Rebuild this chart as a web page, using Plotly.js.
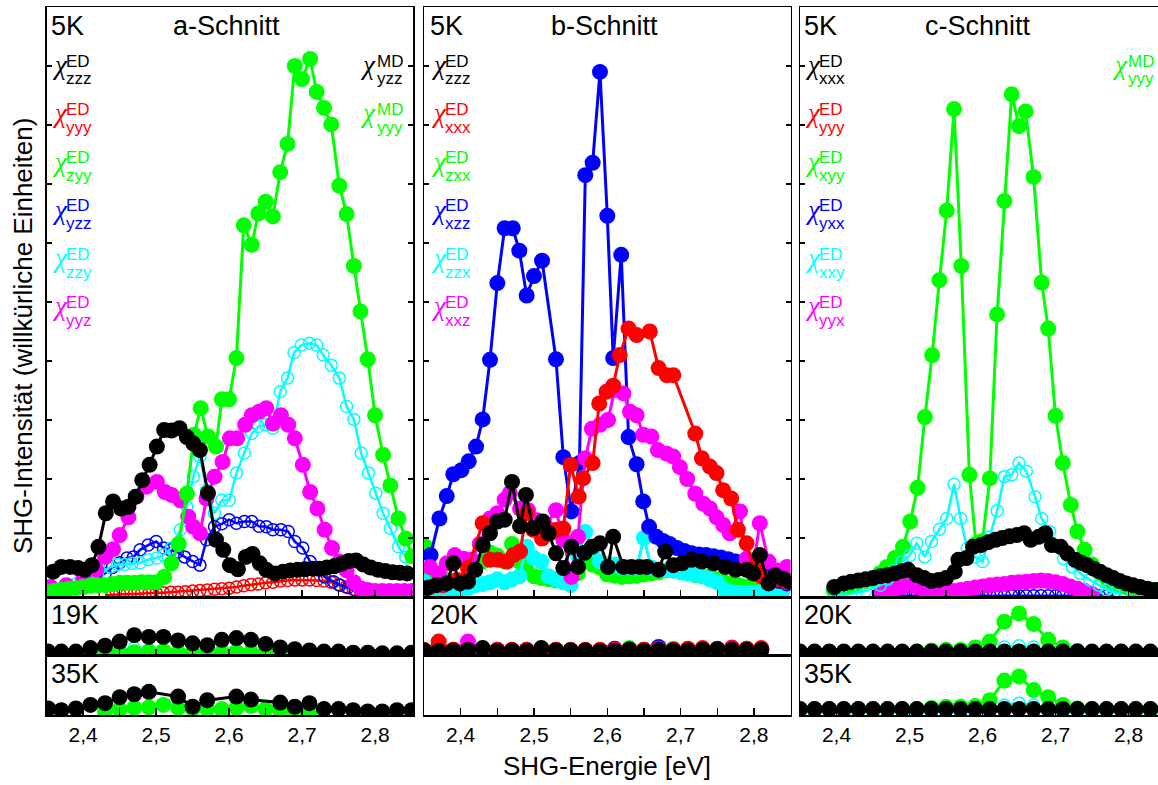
<!DOCTYPE html>
<html><head><meta charset="utf-8">
<script src="https://cdn.plot.ly/plotly-3.0.1.min.js"></script>
<style>html,body{margin:0;padding:0;background:#fff}#chart{width:1158px;height:785px}</style>
</head><body><div id="chart"></div>
<script>
// ===================== DATA =====================
// x tick labels
const tickPos = [2.4, 2.5, 2.6, 2.7, 2.8];
const tickLabels = ['2,4', '2,5', '2,6', '2,7', '2,8'];
const minorPos = [2.35, 2.45, 2.55, 2.65, 2.75, 2.85];

// ---- a-Schnitt, 5K ----
const a5_E_zzz = [2.359,2.37,2.382,2.393,2.402,2.412,2.421,2.431,2.441,2.452,2.462,2.472,2.481,2.491,2.501,2.511,2.521,2.532,2.542,2.551,2.56,2.571,2.582,2.592,2.601,2.612,2.623,2.632,2.642,2.651,2.663,2.674,2.684,2.694,2.704,2.714,2.724,2.734,2.744,2.754,2.764,2.774,2.784,2.794,2.804,2.814,2.824,2.834,2.844];
const a5_I_zzz = [0.43,0.51,0.51,0.49,0.46,0.54,0.85,1.42,1.62,1.5,1.53,1.7,1.98,2.24,2.55,2.83,2.82,2.86,2.71,2.6,2.49,1.76,0.97,0.8,0.54,0.47,0.68,0.73,0.57,0.46,0.4,0.43,0.45,0.46,0.47,0.48,0.48,0.5,0.52,0.56,0.61,0.62,0.55,0.5,0.46,0.44,0.42,0.41,0.4];
const a5_E_yyy = [2.43,2.44,2.45,2.46,2.47,2.48,2.49,2.50,2.51,2.52,2.53,2.54,2.55,2.56,2.57,2.58,2.59,2.60,2.61,2.62,2.63,2.64,2.65,2.66,2.67,2.68,2.69,2.70,2.71,2.72,2.73,2.74,2.75,2.76,2.77,2.78];
const a5_I_yyy = [0.03,0.04,0.05,0.05,0.05,0.06,0.06,0.07,0.07,0.08,0.08,0.09,0.1,0.11,0.12,0.13,0.14,0.15,0.17,0.19,0.21,0.22,0.24,0.25,0.27,0.28,0.29,0.29,0.29,0.28,0.27,0.25,0.21,0.17,0.13,0.09];
const a5_E_zyy = [2.35,2.36,2.37,2.38,2.39,2.40,2.41,2.42,2.43,2.44,2.45,2.46,2.47,2.48,2.49,2.50,2.511,2.521,2.531,2.542,2.552,2.561,2.571,2.582,2.59,2.60,2.61,2.62,2.631,2.64,2.65,2.66,2.67,2.68,2.69,2.70,2.711,2.72,2.73,2.74,2.751,2.761,2.771,2.78,2.79,2.80,2.811,2.821,2.832,2.842,2.851];
const a5_I_zyy = [0.08,0.1,0.12,0.14,0.15,0.17,0.19,0.2,0.2,0.22,0.24,0.24,0.24,0.25,0.25,0.25,0.34,0.57,0.9,1.75,2.75,3.2,2.72,2.55,3.35,3.35,4.05,6.3,5.97,6.5,6.7,6.45,7.2,7.68,9.0,8.78,9.12,8.56,8.29,8.01,6.97,6.49,5.61,4.84,4.03,3.08,2.41,1.89,1.33,0.99,0.69];
const a5_E_yzz = [2.35,2.37,2.39,2.41,2.43,2.44,2.45,2.46,2.469,2.478,2.489,2.50,2.51,2.519,2.529,2.539,2.55,2.56,2.569,2.58,2.59,2.60,2.61,2.621,2.631,2.641,2.651,2.66,2.671,2.681,2.69,2.701,2.711,2.722,2.731,2.743,2.752,2.763,2.773,2.783,2.793,2.803,2.813,2.823,2.833,2.843];
const a5_I_yzz = [0.05,0.1,0.15,0.25,0.4,0.5,0.58,0.66,0.68,0.8,0.88,0.94,0.83,0.8,0.76,0.68,0.6,0.54,0.97,1.19,1.24,1.31,1.25,1.28,1.28,1.2,1.19,1.14,1.14,1.11,0.94,0.83,0.6,0.46,0.34,0.26,0.2,0.16,0.12,0.1,0.09,0.08,0.08,0.07,0.07,0.07];
const a5_E_zzy = [2.35,2.36,2.37,2.38,2.39,2.40,2.41,2.42,2.437,2.447,2.457,2.467,2.478,2.489,2.501,2.51,2.521,2.533,2.542,2.551,2.56,2.569,2.58,2.59,2.60,2.61,2.621,2.631,2.64,2.65,2.66,2.67,2.68,2.689,2.699,2.71,2.72,2.729,2.74,2.751,2.761,2.771,2.781,2.791,2.801,2.811,2.821,2.832,2.842,2.851];
const a5_I_zzy = [0.1,0.12,0.15,0.18,0.22,0.26,0.3,0.35,0.51,0.55,0.55,0.57,0.58,0.63,0.66,0.71,0.83,1.14,1.53,2.04,2.38,1.81,1.42,1.64,1.64,2.1,2.44,2.77,2.89,2.92,2.86,3.48,3.71,4.14,4.27,4.3,4.27,4.1,3.93,3.71,3.23,3.01,2.44,2.1,1.76,1.42,1.16,0.85,0.68,0.57];
const a5_E_yyz = [2.355,2.377,2.40,2.418,2.43,2.441,2.45,2.462,2.473,2.487,2.501,2.512,2.521,2.533,2.544,2.551,2.56,2.569,2.58,2.591,2.601,2.611,2.622,2.631,2.641,2.651,2.66,2.671,2.681,2.69,2.701,2.711,2.721,2.731,2.741,2.751,2.761,2.771,2.78,2.79,2.80,2.81,2.82,2.83,2.84,2.85];
const a5_I_yyz = [0.17,0.2,0.29,0.46,0.68,0.81,1.05,1.35,1.7,1.87,1.95,1.78,1.73,1.64,1.36,1.19,1.08,1.67,2.04,2.29,2.69,2.69,2.92,3.08,3.14,3.2,2.94,3.08,2.92,2.69,2.24,1.78,1.5,1.14,0.83,0.6,0.45,0.25,0.15,0.12,0.1,0.1,0.1,0.1,0.1,0.1];

// ---- a-Schnitt, 19K / 35K ----
const a19_E = [2.352,2.37,2.39,2.41,2.43,2.45,2.47,2.49,2.51,2.53,2.55,2.57,2.59,2.61,2.63,2.65,2.67,2.69,2.71,2.73,2.75,2.77,2.79,2.81,2.83,2.85];
const a19_zzz = [0.07,0.07,0.07,0.13,0.17,0.24,0.35,0.32,0.32,0.26,0.21,0.18,0.27,0.3,0.27,0.2,0.14,0.11,0.09,0.07,0.07,0.05,0.05,0.04,0.04,0.05];
const a19_zyy = [0.0,0.0,0.0,0.02,0.04,0.06,0.06,0.07,0.08,0.06,0.05,0.05,0.06,0.07,0.06,0.05,0.04,0.04,0.03,0.03,0.02,0.02,0.02,0.01,0.01,0.01];
const a19_zzy = [0.02,0.02,0.03,0.05,0.08,0.1,0.13,0.1,0.08,0.07,0.06,0.05,0.06,0.07,0.06,0.05,0.04,0.03,0.03,0.02,0.02,0.02,0.02,0.02,0.02,0.02];
const a35_E = [2.352,2.37,2.39,2.41,2.43,2.45,2.47,2.49,2.53,2.55,2.57,2.61,2.63,2.67,2.69,2.71,2.73,2.75,2.77,2.79,2.81,2.83,2.85];
const a35_zzz = [0.11,0.08,0.11,0.17,0.2,0.3,0.35,0.39,0.31,0.14,0.25,0.31,0.26,0.21,0.14,0.2,0.1,0.1,0.08,0.06,0.06,0.08,0.08];
const a35g_E = [2.43,2.45,2.47,2.49,2.51,2.53,2.55,2.57,2.59,2.61,2.63,2.65,2.67,2.69,2.71];
const a35_zyy = [0.06,0.1,0.12,0.13,0.17,0.12,0.1,0.1,0.1,0.12,0.15,0.1,0.08,0.06,0.04];

// ---- b-Schnitt, 5K ----
const b5_E_zzz = [2.354,2.367,2.381,2.39,2.399,2.41,2.42,2.43,2.44,2.45,2.46,2.47,2.481,2.489,2.499,2.512,2.52,2.53,2.54,2.551,2.56,2.569,2.579,2.59,2.601,2.608,2.622,2.633,2.644,2.654,2.67,2.679,2.69,2.702,2.715,2.729,2.745,2.761,2.775,2.79,2.799,2.808,2.82,2.829,2.84,2.849];
const b5_I_zzz = [0.15,0.2,0.23,0.57,0.23,0.26,0.46,0.88,1.08,1.28,1.31,1.95,1.2,1.73,1.17,1.28,1.08,0.74,0.49,0.85,0.51,0.75,0.85,0.91,0.51,1.02,0.51,0.51,0.51,0.51,0.46,0.77,0.54,0.57,0.63,0.6,0.57,0.51,0.46,0.46,0.4,0.71,0.23,0.37,0.31,0.26];
const b5_E_xxx = [2.358,2.376,2.395,2.41,2.43,2.44,2.451,2.463,2.472,2.481,2.49,2.499,2.511,2.522,2.531,2.54,2.55,2.561,2.567,2.58,2.589,2.599,2.608,2.617,2.629,2.64,2.658,2.67,2.681,2.69,2.72,2.729,2.74,2.749,2.758,2.769,2.778,2.79,2.80,2.81,2.82,2.83,2.845];
const b5_I_xxx = [0.17,0.2,0.29,0.49,1.25,0.63,0.63,0.6,0.71,0.77,1.42,1.14,0.99,1.08,1.14,1.16,2.24,1.7,2.01,2.27,3.28,3.48,3.58,4.1,4.55,4.44,4.5,3.88,3.76,3.76,2.77,2.35,2.21,2.1,1.81,1.67,1.14,0.91,0.5,0.35,0.3,0.3,0.25];
const b5_E_zxx = [2.352,2.36,2.37,2.38,2.39,2.40,2.41,2.42,2.43,2.44,2.45,2.46,2.47,2.48,2.49,2.50,2.51,2.52,2.53,2.54,2.55,2.56,2.57,2.58,2.59,2.60,2.61,2.62,2.63,2.64,2.65,2.66,2.67,2.68,2.69,2.70,2.71,2.72,2.73,2.74,2.75,2.76,2.77,2.78,2.79,2.80,2.81,2.82,2.83,2.84];
const b5_I_zxx = [0.85,0.4,0.35,0.3,0.25,0.28,0.35,0.5,0.6,0.75,0.7,0.6,0.9,0.6,0.45,0.35,0.32,0.3,0.28,0.3,0.35,0.4,0.6,0.55,0.5,0.38,0.36,0.34,0.35,0.36,0.38,0.4,0.42,0.45,0.45,0.43,0.4,0.37,0.35,0.35,0.3,0.25,0.22,0.2,0.18,0.2,0.22,0.2,0.2,0.22];
const b5_E_xzz = [2.359,2.371,2.381,2.39,2.401,2.411,2.421,2.43,2.44,2.45,2.46,2.471,2.48,2.49,2.50,2.511,2.53,2.54,2.551,2.562,2.57,2.58,2.59,2.60,2.608,2.619,2.629,2.64,2.649,2.657,2.667,2.676,2.685,2.695,2.705,2.715,2.725,2.735,2.745,2.755,2.765,2.775,2.785,2.795,2.805,2.815,2.825,2.835,2.845];
const b5_I_xzz = [0.71,1.33,1.71,2.08,2.15,2.3,2.55,3.01,4.02,5.32,6.25,6.25,5.87,5.11,5.44,5.7,4.03,2.37,1.45,2.27,7.15,7.36,8.9,6.46,4.05,5.8,2.71,2.25,1.62,1.19,1.02,0.95,0.9,0.83,0.78,0.74,0.72,0.71,0.69,0.67,0.64,0.6,0.55,0.5,0.44,0.38,0.32,0.27,0.23];
const b5_E_zzx = [2.35,2.36,2.37,2.38,2.39,2.40,2.41,2.42,2.43,2.44,2.45,2.46,2.47,2.48,2.49,2.50,2.51,2.52,2.53,2.54,2.55,2.56,2.57,2.58,2.59,2.60,2.61,2.62,2.63,2.64,2.65,2.66,2.67,2.68,2.69,2.70,2.71,2.72,2.73,2.74,2.75,2.76,2.77,2.78,2.79,2.80,2.81,2.82,2.83,2.84];
const b5_I_zzx = [0.25,0.15,0.12,0.1,0.08,0.1,0.15,0.2,0.22,0.25,0.3,0.25,0.3,0.35,0.85,0.66,0.6,0.35,0.3,0.25,0.2,0.7,1.1,0.8,0.6,0.55,0.55,0.5,0.5,0.5,1.0,0.5,0.45,0.45,0.45,0.42,0.4,0.38,0.35,0.3,0.25,0.12,0.08,0.07,0.07,0.07,0.08,0.1,0.12,0.12];
const b5_E_xxz = [2.358,2.37,2.381,2.392,2.404,2.415,2.426,2.44,2.45,2.46,2.467,2.481,2.492,2.504,2.516,2.53,2.54,2.551,2.56,2.57,2.579,2.59,2.601,2.61,2.622,2.631,2.64,2.649,2.66,2.669,2.681,2.69,2.699,2.709,2.72,2.731,2.74,2.749,2.758,2.767,2.781,2.79,2.799,2.808,2.82,2.832,2.845];
const b5_I_xxz = [0.51,0.4,0.57,0.71,0.65,0.63,0.9,1.33,1.42,1.65,1.76,1.5,1.47,1.3,1.2,1.47,0.97,0.34,1.02,2.35,2.85,2.92,3.0,3.51,3.45,3.14,3.08,2.75,2.72,2.49,2.43,2.38,2.2,2.0,1.75,1.58,1.5,1.35,1.22,1.08,1.45,0.65,0.5,1.25,0.6,0.45,0.51];

// ---- b-Schnitt, 20K ----
const b20_E = [2.35,2.37,2.39,2.41,2.43,2.45,2.47,2.49,2.51,2.53,2.55,2.57,2.59,2.61,2.63,2.65,2.67,2.69,2.71,2.73,2.75,2.77,2.79,2.81];
const b20_zzz = [0.09,0.08,0.09,0.1,0.13,0.08,0.09,0.08,0.13,0.09,0.09,0.09,0.08,0.08,0.1,0.08,0.1,0.09,0.09,0.1,0.11,0.1,0.1,0.1];
const b20_xxx = [0.1,0.24,0.1,0.1,0.12,0.1,0.1,0.1,0.12,0.1,0.1,0.1,0.1,0.1,0.11,0.1,0.12,0.1,0.12,0.13,0.12,0.13,0.12,0.13];
const b20_xxz = [0.08,0.08,0.1,0.24,0.1,0.08,0.09,0.08,0.1,0.09,0.09,0.09,0.08,0.1,0.1,0.08,0.12,0.09,0.1,0.1,0.11,0.14,0.12,0.1];
const b20_xzz = [0.08,0.07,0.08,0.08,0.1,0.1,0.08,0.1,0.1,0.1,0.08,0.08,0.08,0.12,0.1,0.1,0.15,0.1,0.1,0.1,0.1,0.1,0.1,0.1];
const b20_zxx = [0.08,0.08,0.08,0.08,0.1,0.08,0.08,0.08,0.1,0.08,0.08,0.08,0.08,0.1,0.13,0.1,0.1,0.12,0.1,0.1,0.1,0.1,0.1,0.1];

// ---- c-Schnitt, 5K ----
const c5_E_xxx = [2.397,2.41,2.42,2.43,2.44,2.45,2.46,2.47,2.48,2.49,2.498,2.51,2.52,2.53,2.54,2.55,2.562,2.567,2.578,2.587,2.598,2.608,2.618,2.627,2.637,2.647,2.657,2.666,2.677,2.686,2.695,2.707,2.716,2.727,2.735,2.743,2.752,2.761,2.77,2.779,2.788,2.797,2.806,2.816,2.826,2.837];
const c5_I_xxx = [0.17,0.23,0.26,0.28,0.3,0.32,0.35,0.37,0.4,0.44,0.46,0.37,0.32,0.27,0.29,0.32,0.43,0.63,0.66,0.85,0.88,0.93,0.97,1.0,1.03,1.05,1.08,0.97,1.02,1.08,0.88,0.85,0.74,0.63,0.58,0.54,0.48,0.43,0.37,0.32,0.27,0.23,0.2,0.17,0.14,0.12];
const c5_E_xyy = [2.396,2.409,2.418,2.428,2.439,2.449,2.459,2.469,2.48,2.491,2.501,2.511,2.521,2.531,2.541,2.551,2.561,2.571,2.582,2.591,2.60,2.61,2.62,2.63,2.64,2.65,2.659,2.67,2.681,2.69,2.70,2.71,2.721,2.73,2.74,2.75,2.761,2.771,2.779,2.79,2.80,2.81,2.82,2.829,2.839];
const c5_I_xyy = [0.12,0.15,0.18,0.22,0.27,0.3,0.4,0.51,0.66,0.85,1.28,1.85,3.05,4.1,5.37,6.55,8.27,5.61,2.07,0.9,0.95,2.01,4.79,6.71,8.52,7.98,8.23,7.12,5.33,4.55,3.07,2.27,1.56,1.11,0.8,0.55,0.4,0.3,0.23,0.18,0.15,0.13,0.12,0.12,0.12];
const c5_E_yxx = [2.46,2.47,2.48,2.49,2.50,2.51,2.52,2.53,2.54,2.55,2.56,2.57,2.58,2.59,2.60,2.61,2.62,2.63,2.64,2.65,2.66,2.67,2.68,2.69,2.70,2.71,2.72,2.73,2.74,2.75,2.76,2.77,2.78];
const c5_I_yxx = [0.02,0.02,0.02,0.02,0.02,0.02,0.02,0.02,0.02,0.02,0.02,0.02,0.02,0.02,0.02,0.02,0.02,0.02,0.02,0.02,0.02,0.02,0.02,0.02,0.02,0.02,0.02,0.02,0.02,0.02,0.02,0.02,0.02];
const c5_E_xxy = [2.40,2.42,2.44,2.46,2.47,2.48,2.49,2.50,2.51,2.521,2.53,2.541,2.551,2.561,2.57,2.579,2.59,2.60,2.61,2.62,2.63,2.64,2.65,2.66,2.672,2.681,2.692,2.702,2.711,2.723,2.734,2.747,2.76,2.77,2.78,2.79];
const c5_I_xxy = [0.03,0.05,0.1,0.2,0.3,0.45,0.6,0.7,0.91,0.68,0.94,1.15,1.33,1.91,1.33,0.82,0.68,0.6,1.02,1.46,2.04,2.07,2.27,2.13,1.7,1.33,1.11,0.85,0.65,0.51,0.4,0.29,0.2,0.12,0.08,0.05];
const c5_E_yyx = [2.46,2.47,2.48,2.49,2.50,2.51,2.52,2.53,2.54,2.55,2.56,2.57,2.58,2.59,2.60,2.61,2.62,2.63,2.64,2.65,2.66,2.67,2.68,2.69,2.70,2.71,2.72,2.73,2.74,2.75];
const c5_I_yyx = [0.05,0.1,0.13,0.17,0.2,0.17,0.12,0.1,0.08,0.08,0.1,0.12,0.14,0.16,0.18,0.2,0.21,0.22,0.24,0.25,0.26,0.27,0.28,0.27,0.25,0.22,0.18,0.14,0.1,0.05];

// ---- c-Schnitt, 20K / 35K ----
const c20_E = [2.35,2.37,2.39,2.41,2.43,2.45,2.47,2.49,2.51,2.53,2.55,2.57,2.59,2.61,2.63,2.65,2.67,2.69,2.71,2.73,2.75,2.77,2.79,2.81,2.83,2.85];
const c20_xxx = [0.07,0.07,0.07,0.07,0.07,0.07,0.07,0.07,0.07,0.07,0.07,0.07,0.07,0.07,0.07,0.07,0.07,0.07,0.07,0.07,0.07,0.07,0.07,0.07,0.07,0.07];
const c20_xyy = [0.06,0.06,0.06,0.06,0.06,0.06,0.06,0.06,0.07,0.09,0.1,0.1,0.14,0.24,0.58,0.72,0.54,0.27,0.14,0.08,0.06,0.06,0.06,0.06,0.06,0.06];
const c20_xxy = [0.05,0.05,0.05,0.05,0.05,0.05,0.05,0.05,0.05,0.05,0.05,0.05,0.05,0.05,0.15,0.17,0.15,0.08,0.05,0.05,0.05,0.05,0.05,0.05,0.05,0.05];
const c35_xxx = [0.1,0.1,0.1,0.1,0.1,0.1,0.1,0.1,0.1,0.1,0.1,0.1,0.1,0.1,0.1,0.1,0.1,0.1,0.1,0.1,0.1,0.1,0.1,0.1,0.1,0.1];
const c35_xyy = [0.1,0.1,0.1,0.1,0.1,0.1,0.1,0.1,0.1,0.12,0.14,0.14,0.15,0.25,0.58,0.65,0.42,0.3,0.17,0.11,0.1,0.1,0.1,0.1,0.1,0.1];
const c35_xxy = [0.05,0.05,0.05,0.05,0.05,0.05,0.05,0.05,0.05,0.05,0.05,0.05,0.05,0.05,0.17,0.2,0.17,0.08,0.05,0.05,0.05,0.05,0.05,0.05,0.05,0.05];

// text labels
const panelTitles = ['a-Schnitt', 'b-Schnitt', 'c-Schnitt'];
const tempLabels = [['5K', '19K', '35K'], ['5K', '20K', ''], ['5K', '20K', '35K']];
const chiSubs = [['zzz','yyy','zyy','yzz','zzy','yyz'], ['zzz','xxx','zxx','xzz','zzx','xxz'], ['xxx','yyy','xyy','yxx','xxy','yyx']];
const mdLabels = [[['yzz', 'black'], ['yyy', 'green']], [], [['yyy', 'green']]];
const yTitle = 'SHG-Intensität (willkürliche Einheiten)';
const xTitle = 'SHG-Energie [eV]';

// ===================== STYLE / LAYOUT =====================
const COL = {black:'#000000', red:'#ff0000', green:'#00ff00', blue:'#0000ff', cyan:'#00ffff', magenta:'#ff00ff'};
const chiColors = ['black','red','green','blue','cyan','magenta'];
const FONT = 'Arial, Liberation Sans, sans-serif';
const CHIFONT = 'Liberation Serif, DejaVu Serif, serif';
const W = 1158, H = 785, ML = 46, MR = 0, MT = 7, MB = 70;
const px2x = px => (px - ML) / (W - ML - MR);
const py2y = py => (H - MB - py) / (H - MT - MB);
const colPx = [[46.7, 413], [424, 790.6], [800, 1158]];
const rowPx = [[7, 597], [597, 655.7], [655.7, 715]];
const xRanges = [[2.35, 2.852], [2.35, 2.85], [2.35, 2.8404]];

// series spec: [panel, row, E, I, color, open]
const series = [
  [0,0,a5_E_yyy,a5_I_yyy,'red',true],
  [0,0,a5_E_yzz,a5_I_yzz,'blue',true],
  [0,0,a5_E_zzy,a5_I_zzy,'cyan',true],
  [0,0,a5_E_yyz,a5_I_yyz,'magenta',false],
  [0,0,a5_E_zyy,a5_I_zyy,'green',false],
  [0,0,a5_E_zzz,a5_I_zzz,'black',false],
  [0,1,a19_E,a19_zzy,'cyan',true],
  [0,1,a19_E,a19_zyy,'green',false],
  [0,1,a19_E,a19_zzz,'black',false],
  [0,2,a35g_E,a35_zyy,'green',false],
  [0,2,a35_E,a35_zzz,'black',false],
  [1,0,b5_E_zxx,b5_I_zxx,'green',false],
  [1,0,b5_E_zzx,b5_I_zzx,'cyan',false],
  [1,0,b5_E_xzz,b5_I_xzz,'blue',false],
  [1,0,b5_E_xxz,b5_I_xxz,'magenta',false],
  [1,0,b5_E_xxx,b5_I_xxx,'red',false],
  [1,0,b5_E_zzz,b5_I_zzz,'black',false],
  [1,1,b20_E,b20_zxx,'green',false],
  [1,1,b20_E,b20_xzz,'blue',false],
  [1,1,b20_E,b20_xxz,'magenta',false],
  [1,1,b20_E,b20_xxx,'red',false],
  [1,1,b20_E,b20_zzz,'black',false],
  [2,0,c5_E_yxx,c5_I_yxx,'blue',true],
  [2,0,c5_E_yyx,c5_I_yyx,'magenta',false],
  [2,0,c5_E_xyy,c5_I_xyy,'green',false],
  [2,0,c5_E_xxy,c5_I_xxy,'cyan',true],
  [2,0,c5_E_xxx,c5_I_xxx,'black',false],
  [2,1,c20_E,c20_xxy,'cyan',true],
  [2,1,c20_E,c20_xyy,'green',false],
  [2,1,c20_E,c20_xxx,'black',false],
  [2,2,c20_E,c35_xxy,'cyan',true],
  [2,2,c20_E,c35_xyy,'green',false],
  [2,2,c20_E,c35_xxx,'black',false]
];

const axN = (p, r) => p * 3 + r + 1;
const axS = n => (n === 1 ? '' : String(n));

const traces = series.map(s => {
  const n = axN(s[0], s[1]);
  const c = COL[s[4]];
  return {
    type: 'scatter', mode: 'lines+markers', x: s[2], y: s[3],
    xaxis: 'x' + axS(n), yaxis: 'y' + axS(n),
    line: {color: c, width: s[5] ? 2.5 : 3},
    marker: s[5] ? {symbol: 'circle-open', size: 12, color: c, line: {color: c, width: 1.5}}
                 : {symbol: 'circle', size: 16, color: c, line: {width: 0}},
    showlegend: false, hoverinfo: 'skip'
  };
});
// empty subplot (b-Schnitt 35K)
traces.push({type:'scatter', mode:'markers', x:[], y:[], xaxis:'x6', yaxis:'y6', showlegend:false});

const layout = {
  width: W, height: H, margin: {l: ML, r: MR, t: MT, b: MB},
  paper_bgcolor: '#fff', plot_bgcolor: '#fff', showlegend: false,
  font: {family: FONT, color: '#000'},
  annotations: [], shapes: []
};

for (let p = 0; p < 3; p++) {
  for (let r = 0; r < 3; r++) {
    const n = axN(p, r);
    const xd = [px2x(colPx[p][0]), Math.min(1, px2x(colPx[p][1]))];
    const yd = [py2y(rowPx[r][1]), py2y(rowPx[r][0])];
    layout['xaxis' + axS(n)] = {
      domain: xd, range: xRanges[p], anchor: 'y' + axS(n),
      showline: true, mirror: true, linecolor: '#000', linewidth: 1.5,
      showgrid: false, zeroline: false,
      tickmode: 'array', tickvals: tickPos, ticktext: tickLabels,
      ticks: 'inside', ticklen: 7, tickwidth: 1.5, tickcolor: '#000',
      showticklabels: r === 2, tickfont: {family: FONT, size: 21, color: '#000'},
      minor: {tickmode: 'array', tickvals: minorPos, ticks: 'inside', ticklen: 7, tickwidth: 1.5, tickcolor: '#000', showgrid: false},
      fixedrange: true
    };
    layout['yaxis' + axS(n)] = {
      domain: yd, range: r === 0 ? [0, 10] : [0, 1], anchor: 'x' + axS(n),
      showline: true, mirror: p === 2 ? false : (r === 0 ? 'ticks' : true),
      linecolor: '#000', linewidth: 1.5,
      showgrid: false, zeroline: false, showticklabels: false,
      ticks: r === 0 ? 'inside' : '', dtick: 1, tick0: 0, ticklen: 5, tickwidth: 1.5, tickcolor: '#000',
      fixedrange: true
    };
  }
}

function ann(text, px, py, size, color, xanchor, extra, family) {
  layout.annotations.push(Object.assign({
    xref: 'paper', yref: 'paper', x: px2x(px), y: py2y(py), text: text,
    showarrow: false, xanchor: xanchor || 'left', yanchor: 'middle',
    font: {family: family || FONT, size: size, color: color || '#000'}
  }, extra || {}));
}

const chiLeft = [50, 429, 802.5];
const rowY0 = 61, rowStep = 48.3;
const titleCx = [226, 604, 978];
for (let p = 0; p < 3; p++) {
  // temperature labels
  ann(tempLabels[p][0], chiLeft[p] - 1, 26, 27);
  if (tempLabels[p][1]) ann(tempLabels[p][1], chiLeft[p] - 1, 615, 27);
  if (tempLabels[p][2]) ann(tempLabels[p][2], chiLeft[p] - 1, 674, 27);
  ann(panelTitles[p], titleCx[p], 26, 27, '#000', 'center');
  // chi labels
  chiSubs[p].forEach((sub, k) => {
    const c = COL[chiColors[k]];
    const y = rowY0 + k * rowStep;
    ann('<i>χ</i>', chiLeft[p], y + 4, 27, c, 'left', null, CHIFONT);
    ann('ED', chiLeft[p] + 14, y, 17, c);
    ann(sub, chiLeft[p] + 14, y + 18, 17, c);
  });
}
// MD labels on the right side
const mdLeft = [358.5, 0, 1110];
[0, 2].forEach(p => {
  mdLabels[p].forEach((m, k) => {
    const c = COL[m[1]];
    const y = rowY0 + k * rowStep;
    ann('<i>χ</i>', mdLeft[p], y + 4, 27, c, 'left', null, CHIFONT);
    ann('MD', mdLeft[p] + 16, y, 17, c);
    ann(m[0], mdLeft[p] + 16, y + 18, 17, c);
  });
});
// axis titles
ann(yTitle, 23, 336, 26, '#000', 'center', {textangle: -90});
ann(xTitle, 607, 766, 26, '#000', 'center');

Plotly.newPlot('chart', traces, layout, {staticPlot: true, displayModeBar: false});
</script></body></html>
